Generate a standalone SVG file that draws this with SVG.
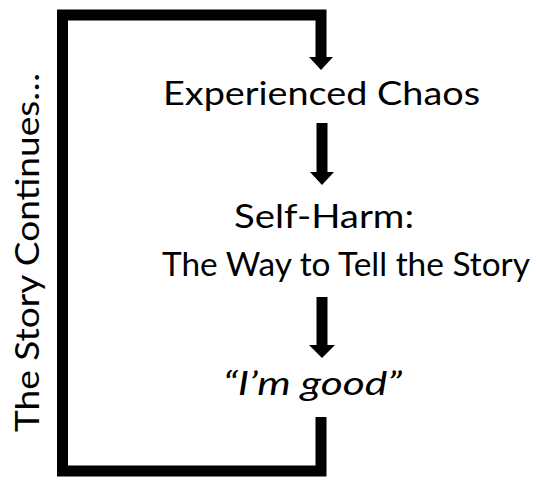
<svg xmlns="http://www.w3.org/2000/svg" width="536" height="490" viewBox="0 0 536 490">
<style>
.t{font-family:Lato,"Open Sans","Liberation Sans",sans-serif;font-size:32px;fill:#000}
.i{font-style:italic}
.ln{fill:none;stroke:#000;stroke-width:11;stroke-linejoin:miter;stroke-linecap:butt}
.hd{fill:#000}
</style>
<rect width="536" height="490" fill="#fff"/>
<g id="connectors">
<path class="ln" d="M321 417 V471 H62.5 V15 H321 V58"/>
<polygon class="hd" points="309,57 333,57 321,70"/>
<rect class="hd" x="316.5" y="123" width="11" height="50"/>
<polygon class="hd" points="310,172 334,172 322,185"/>
<rect class="hd" x="316.5" y="297" width="11" height="49"/>
<polygon class="hd" points="309,345 335,345 322,358"/>
</g>
<g id="node-chaos">
<text class="t" x="163" y="105" textLength="317" lengthAdjust="spacingAndGlyphs">Experienced Chaos</text>
</g>
<g id="node-selfharm">
<text class="t" x="234" y="228" textLength="180" lengthAdjust="spacingAndGlyphs">Self-Harm:</text>
<text class="t" x="162" y="276" textLength="368" lengthAdjust="spacingAndGlyphs">The Way to Tell the Story</text>
</g>
<g id="node-good">
<text class="t i" x="223" y="395" textLength="179" lengthAdjust="spacingAndGlyphs">“I’m good”</text>
</g>
<g id="label-continues">
<text class="t" transform="translate(39,432) rotate(-90)" x="0" y="0" textLength="359" lengthAdjust="spacingAndGlyphs" style="font-size:33px">The Story Continues…</text>
</g>
</svg>
